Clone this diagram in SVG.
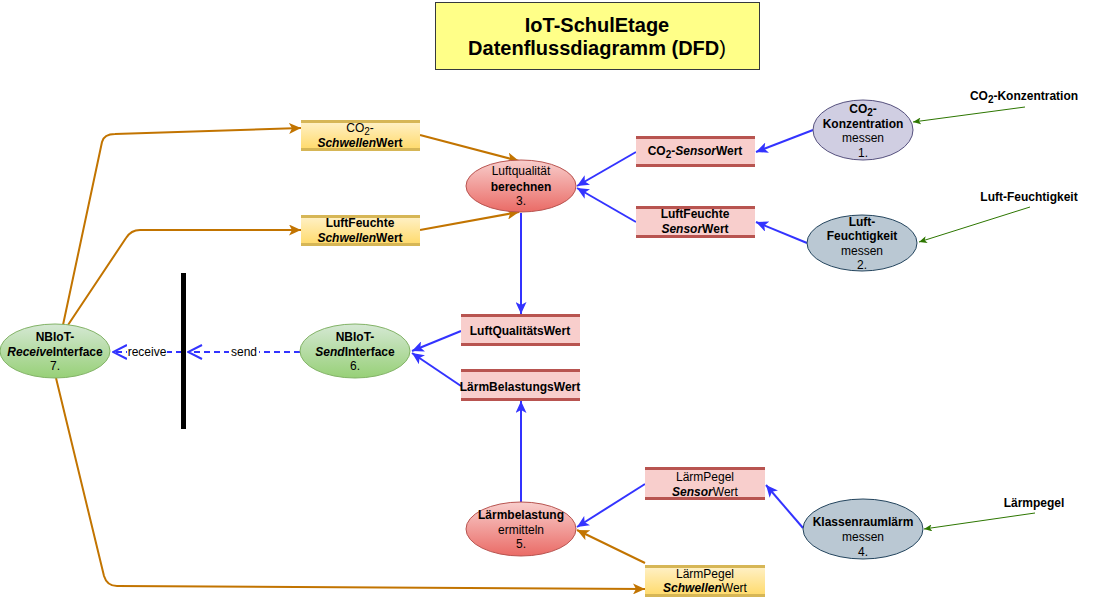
<svg xmlns="http://www.w3.org/2000/svg" width="1096" height="599" viewBox="0 0 1096 599">
<style>
text{font-family:"Liberation Sans",Arial,sans-serif;font-size:12px;fill:#000;text-anchor:middle}
.b{font-weight:bold}
.i{font-style:italic}
.t{font-size:20px;font-weight:bold}
.small{font-size:10px}
.or{fill:none;stroke:#C27400;stroke-width:2}
.bl{fill:none;stroke:#3333FF;stroke-width:2}
.gr{fill:none;stroke:#2D7600;stroke-width:1}
.dash{fill:none;stroke:#3333FF;stroke-width:2;stroke-dasharray:6 4}
.ys{fill:url(#gy)}
.yl{stroke:#D6B656;stroke-width:3}
.rs{fill:#F8CECC}
.rl{stroke:#B85450;stroke-width:3}
</style>
<defs>
<linearGradient id="gy" x1="0" y1="0" x2="0" y2="1"><stop offset="0" stop-color="#FFF2CC"/><stop offset="1" stop-color="#FFD966"/></linearGradient>
<linearGradient id="gr" x1="0" y1="0" x2="0" y2="1"><stop offset="0" stop-color="#F8CECC"/><stop offset="1" stop-color="#EA6B66"/></linearGradient>
<linearGradient id="gg" x1="0" y1="0" x2="0" y2="1"><stop offset="0" stop-color="#D5E8D4"/><stop offset="1" stop-color="#97D077"/></linearGradient>
<marker id="aor" markerUnits="userSpaceOnUse" markerWidth="13" markerHeight="11" refX="12" refY="5.5" orient="auto"><path d="M0,0 L12,5.5 L0,11 L3,5.5 z" fill="#C27400"/></marker>
<marker id="abl" markerUnits="userSpaceOnUse" markerWidth="13" markerHeight="11" refX="12" refY="5.5" orient="auto"><path d="M0,0 L12,5.5 L0,11 L3,5.5 z" fill="#3333FF"/></marker>
<marker id="agr" markerUnits="userSpaceOnUse" markerWidth="9" markerHeight="7" refX="8" refY="3.5" orient="auto"><path d="M0,0 L8,3.5 L0,7 L2,3.5 z" fill="#2D7600"/></marker>
<marker id="aop" markerUnits="userSpaceOnUse" markerWidth="16" markerHeight="16" refX="15" refY="8" orient="auto"><path d="M1,1 L15,8 L1,15" fill="none" stroke="#3333FF" stroke-width="2"/></marker>
</defs>
<rect width="1096" height="599" fill="#FFFFFF"/>

<g id="title">
<rect x="435.5" y="2.5" width="324" height="67" fill="#FFFF88" stroke="#36393D" stroke-width="1"/>
<text class="t" x="597" y="32">IoT-SchulEtage</text>
<text class="t" x="597" y="55">Datenflussdiagramm (DFD<tspan font-weight="normal">)</tspan></text>
</g>

<g id="connectors">
<path class="or" d="M63,325 L102,142 Q104,134 115,134 L301,128" marker-end="url(#aor)"/>
<path class="or" d="M68,325 L126,238 Q131,230 140,230 L301,230" marker-end="url(#aor)"/>
<path class="or" d="M56,378 L104,576 Q107,586 117,586 L645,589" marker-end="url(#aor)"/>
<path class="or" d="M420,135 L519,161" marker-end="url(#aor)"/>
<path class="or" d="M420,230 L519,212" marker-end="url(#aor)"/>
<path class="or" d="M645,563 L577,530" marker-end="url(#aor)"/>
<path class="bl" d="M813,130 L756,152" marker-end="url(#abl)"/>
<path class="bl" d="M807,243 L756,222" marker-end="url(#abl)"/>
<path class="bl" d="M636,152 L577,186" marker-end="url(#abl)"/>
<path class="bl" d="M636,222 L577,188" marker-end="url(#abl)"/>
<path class="bl" d="M521,213 L521,314" marker-end="url(#abl)"/>
<path class="bl" d="M461,331 L412,351" marker-end="url(#abl)"/>
<path class="bl" d="M461,386 L412,353" marker-end="url(#abl)"/>
<path class="bl" d="M521,502 L521,401" marker-end="url(#abl)"/>
<path class="bl" d="M803,528 L766,485" marker-end="url(#abl)"/>
<path class="bl" d="M645,484 L577,527" marker-end="url(#abl)"/>
<path class="gr" d="M1025,107 L913,122" marker-end="url(#agr)"/>
<path class="gr" d="M1030,207 L919,242" marker-end="url(#agr)"/>
<path class="gr" d="M1035,513 L924,529" marker-end="url(#agr)"/>
<path class="dash" d="M300,352 L188,352" marker-end="url(#aop)"/>
<path class="dash" d="M182,352 L113,352" marker-end="url(#aop)"/>
<rect x="229" y="345" width="30" height="14" fill="#FFFFFF"/>
<text x="244" y="356">send</text>
<rect x="127" y="345" width="40" height="14" fill="#FFFFFF"/>
<text x="147" y="356">receive</text>
</g>

<g id="bar"><rect x="181" y="273" width="5" height="156" fill="#000000"/></g>

<g id="co2-schwellenwert">
<rect class="ys" x="301" y="120" width="119" height="31"/>
<line class="yl" x1="301" y1="121.5" x2="420" y2="121.5"/><line class="yl" x1="301" y1="149.5" x2="420" y2="149.5"/>
<text x="360" y="132">CO<tspan class="small" dy="3">2</tspan><tspan dy="-3">-</tspan></text>
<text class="b" x="360" y="147"><tspan class="i">Schwellen</tspan>Wert</text>
</g>
<g id="luftfeuchte-schwellenwert">
<rect class="ys" x="301" y="215" width="119" height="31"/>
<line class="yl" x1="301" y1="216.5" x2="420" y2="216.5"/><line class="yl" x1="301" y1="244.5" x2="420" y2="244.5"/>
<text class="b" x="360" y="227">LuftFeuchte</text>
<text class="b" x="360" y="242"><tspan class="i">Schwellen</tspan>Wert</text>
</g>
<g id="laermpegel-schwellenwert">
<rect class="ys" x="645" y="565" width="120" height="32"/>
<line class="yl" x1="645" y1="566.5" x2="765" y2="566.5"/><line class="yl" x1="645" y1="595.5" x2="765" y2="595.5"/>
<text x="705" y="578">LärmPegel</text>
<text x="705" y="592"><tspan class="i b">Schwellen</tspan>Wert</text>
</g>

<g id="co2-sensorwert">
<rect class="rs" x="636" y="136" width="119" height="31"/>
<line class="rl" x1="636" y1="137.5" x2="755" y2="137.5"/><line class="rl" x1="636" y1="165.5" x2="755" y2="165.5"/>
<text class="b" x="695" y="155">CO<tspan class="small" dy="3">2</tspan><tspan dy="-3">-</tspan><tspan class="i">Sensor</tspan>Wert</text>
</g>
<g id="luftfeuchte-sensorwert">
<rect class="rs" x="636" y="206" width="119" height="32"/>
<line class="rl" x1="636" y1="207.5" x2="755" y2="207.5"/><line class="rl" x1="636" y1="236.5" x2="755" y2="236.5"/>
<text class="b" x="695" y="218">LuftFeuchte</text>
<text class="b" x="695" y="233"><tspan class="i">Sensor</tspan>Wert</text>
</g>
<g id="luftqualitaetswert">
<rect class="rs" x="461" y="314" width="119" height="32"/>
<line class="rl" x1="461" y1="315.5" x2="580" y2="315.5"/><line class="rl" x1="461" y1="344.5" x2="580" y2="344.5"/>
<text class="b" x="520" y="335">LuftQualitätsWert</text>
</g>
<g id="laermbelastungswert">
<rect class="rs" x="461" y="369" width="119" height="32"/>
<line class="rl" x1="461" y1="370.5" x2="580" y2="370.5"/><line class="rl" x1="461" y1="399.5" x2="580" y2="399.5"/>
<text class="b" x="520" y="391">LärmBelastungsWert</text>
</g>
<g id="laermpegel-sensorwert">
<rect class="rs" x="645" y="467" width="120" height="33"/>
<line class="rl" x1="645" y1="468.5" x2="765" y2="468.5"/><line class="rl" x1="645" y1="498.5" x2="765" y2="498.5"/>
<text x="705" y="481">LärmPegel</text>
<text x="705" y="496"><tspan class="i b">Sensor</tspan>Wert</text>
</g>

<g id="p1">
<ellipse cx="863" cy="130" rx="50" ry="30" fill="#D0CEE2" stroke="#56517E"/>
<text class="b" x="863" y="113">CO<tspan class="small" dy="3">2</tspan><tspan dy="-3">-</tspan></text>
<text class="b" x="863" y="128">Konzentration</text>
<text x="863" y="142">messen</text>
<text x="863" y="157">1.</text>
</g>
<g id="p2">
<ellipse cx="862" cy="243" rx="55" ry="28" fill="#BAC8D3" stroke="#23445D"/>
<text class="b" x="862" y="226">Luft-</text>
<text class="b" x="862" y="240">Feuchtigkeit</text>
<text x="862" y="255">messen</text>
<text x="862" y="269">2.</text>
</g>
<g id="p3">
<ellipse cx="521" cy="186" rx="55" ry="26" fill="url(#gr)" stroke="#B85450"/>
<text x="521" y="175">Luftqualität</text>
<text class="b" x="521" y="191">berechnen</text>
<text x="521" y="205">3.</text>
</g>
<g id="p4">
<ellipse cx="863" cy="529" rx="60" ry="30" fill="#BAC8D3" stroke="#23445D"/>
<text class="b" x="863" y="526">Klassenraumlärm</text>
<text x="863" y="541">messen</text>
<text x="863" y="556">4.</text>
</g>
<g id="p5">
<ellipse cx="521" cy="529" rx="55" ry="27" fill="url(#gr)" stroke="#B85450"/>
<text class="b" x="521" y="519">Lärmbelastung</text>
<text x="521" y="534">ermitteln</text>
<text x="521" y="548">5.</text>
</g>
<g id="p6">
<ellipse cx="355" cy="351" rx="55" ry="27" fill="url(#gg)" stroke="#82B366"/>
<text class="b" x="355" y="341">NBIoT-</text>
<text class="b" x="355" y="356"><tspan class="i">Send</tspan>Interface</text>
<text x="355" y="370">6.</text>
</g>
<g id="p7">
<ellipse cx="55" cy="351" rx="55" ry="27" fill="url(#gg)" stroke="#82B366"/>
<text class="b" x="55" y="341">NBIoT-</text>
<text class="b" x="55" y="356"><tspan class="i">Receive</tspan>Interface</text>
<text x="55" y="370">7.</text>
</g>

<g id="labels">
<text class="b" x="1024" y="100">CO<tspan class="small" dy="3">2</tspan><tspan dy="-3">-Konzentration</tspan></text>
<text class="b" x="1029" y="201">Luft-Feuchtigkeit</text>
<text class="b" x="1034" y="507">Lärmpegel</text>
</g>
</svg>
